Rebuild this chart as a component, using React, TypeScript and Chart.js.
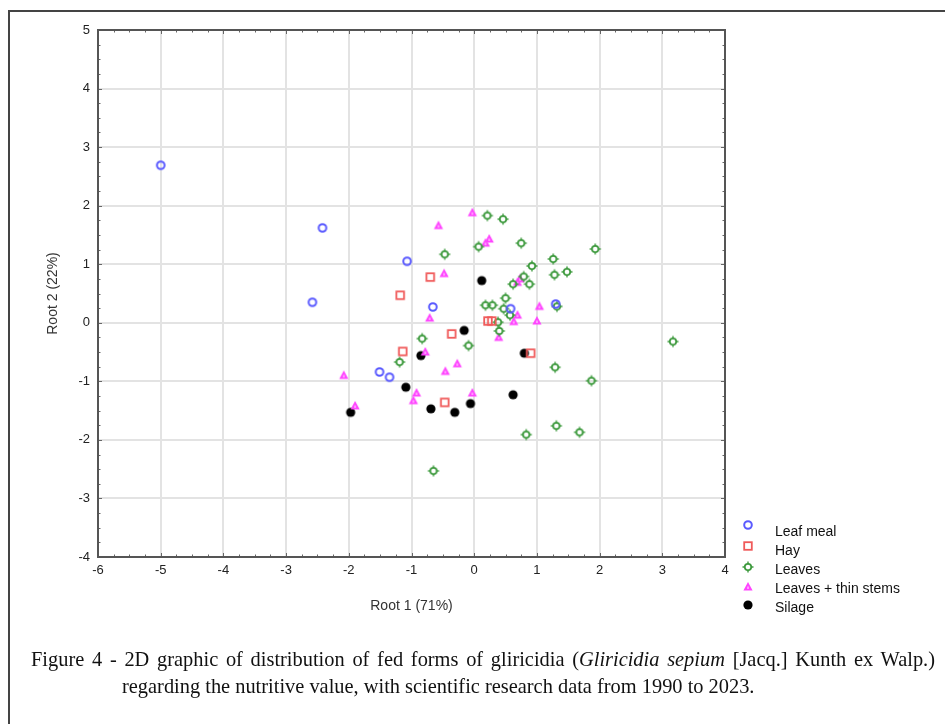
import React, { useEffect, useRef } from "react";
import { Chart, registerables } from "chart.js";

Chart.register(...registerables);

const seriesNames = ["Leaf meal", "Hay", "Leaves", "Leaves + thin stems", "Silage"];

const leafMeal = [
  { x: -5.0, y: 2.69 }, { x: -2.42, y: 1.62 }, { x: -2.58, y: 0.35 }, { x: -1.07, y: 1.05 },
  { x: -0.66, y: 0.27 }, { x: 0.58, y: 0.24 }, { x: 1.3, y: 0.32 }, { x: -1.51, y: -0.84 },
  { x: -1.35, y: -0.93 },
];

const hay = [
  { x: -0.7, y: 0.78 }, { x: -1.18, y: 0.47 }, { x: 0.22, y: 0.03 }, { x: 0.28, y: 0.03 },
  { x: -0.36, y: -0.19 }, { x: -1.14, y: -0.49 }, { x: 0.9, y: -0.52 }, { x: -0.47, y: -1.36 },
];

const leaves = [
  { x: 0.21, y: 1.83 }, { x: 0.46, y: 1.77 }, { x: 0.07, y: 1.3 }, { x: 0.75, y: 1.36 },
  { x: -0.47, y: 1.17 }, { x: 0.18, y: 0.3 }, { x: 0.29, y: 0.3 }, { x: 0.5, y: 0.42 },
  { x: 0.47, y: 0.24 }, { x: 0.38, y: 0.01 }, { x: 0.4, y: -0.14 }, { x: -0.83, y: -0.27 },
  { x: -0.09, y: -0.39 }, { x: -1.19, y: -0.67 }, { x: 0.83, y: -1.91 }, { x: 1.93, y: 1.26 },
  { x: 1.26, y: 1.09 }, { x: 0.92, y: 0.97 }, { x: 1.28, y: 0.82 }, { x: 1.48, y: 0.87 },
  { x: 0.79, y: 0.79 }, { x: 0.62, y: 0.66 }, { x: 0.88, y: 0.66 }, { x: 0.57, y: 0.13 },
  { x: 1.32, y: 0.28 }, { x: 3.17, y: -0.32 }, { x: 1.29, y: -0.76 }, { x: 1.87, y: -0.99 },
  { x: 1.31, y: -1.76 }, { x: 1.68, y: -1.87 }, { x: -0.65, y: -2.53 },
];

const leavesThinStems = [
  { x: -0.03, y: 1.88 }, { x: -0.57, y: 1.66 }, { x: 0.24, y: 1.43 }, { x: 0.18, y: 1.36 },
  { x: -0.48, y: 0.84 }, { x: -0.71, y: 0.08 }, { x: 0.39, y: -0.25 }, { x: -0.78, y: -0.5 },
  { x: -0.27, y: -0.7 }, { x: -0.46, y: -0.83 }, { x: -2.08, y: -0.9 }, { x: -0.92, y: -1.2 },
  { x: -0.97, y: -1.33 }, { x: -0.03, y: -1.2 }, { x: -1.9, y: -1.42 }, { x: 0.73, y: 0.75 },
  { x: 0.69, y: 0.69 }, { x: 0.69, y: 0.13 }, { x: 0.63, y: 0.02 }, { x: 1.04, y: 0.28 },
  { x: 1.0, y: 0.03 },
];

const silage = [
  { x: 0.12, y: 0.72 }, { x: -0.16, y: -0.13 }, { x: -0.85, y: -0.56 }, { x: -1.09, y: -1.1 },
  { x: 0.62, y: -1.23 }, { x: -0.06, y: -1.38 }, { x: -0.69, y: -1.47 }, { x: -0.31, y: -1.53 },
  { x: -1.97, y: -1.53 }, { x: 0.8, y: -0.52 },
];

const xTicks = [-6, -5, -4, -3, -2, -1, 0, 1, 2, 3, 4];
const yTicks = [-4, -3, -2, -1, 0, 1, 2, 3, 4, 5];

const captionLine1Start = "Figure 4 - 2D graphic of distribution of fed forms of gliricidia (";
const captionItalic = "Gliricidia sepium";
const captionLine1End = " [Jacq.] Kunth ex Walp.)";
const captionLine2 = "regarding the nutritive value, with scientific research data from 1990 to 2023.";

function makeMarker(kind: string): HTMLCanvasElement {
  const c = document.createElement("canvas");
  c.width = 14;
  c.height = 14;
  const g = c.getContext("2d")!;
  g.translate(7, 7);
  if (kind === "leafMeal") {
    g.strokeStyle = "#5a5aff";
    g.lineWidth = 2;
    g.beginPath();
    g.arc(0, 0, 3.8, 0, Math.PI * 2);
    g.stroke();
  } else if (kind === "hay") {
    g.strokeStyle = "#f05a5a";
    g.lineWidth = 1.8;
    g.strokeRect(-3.8, -3.8, 7.6, 7.6);
  } else if (kind === "leaves") {
    g.strokeStyle = "#3e9a3e";
    g.lineWidth = 1.8;
    g.beginPath();
    g.arc(0, 0, 3.2, 0, Math.PI * 2);
    g.stroke();
    g.lineWidth = 1.4;
    g.beginPath();
    g.moveTo(0, -5.5); g.lineTo(0, -3);
    g.moveTo(0, 5.5); g.lineTo(0, 3);
    g.moveTo(-5.5, 0); g.lineTo(-3, 0);
    g.moveTo(5.5, 0); g.lineTo(3, 0);
    g.stroke();
  } else if (kind === "thin") {
    g.fillStyle = "#ff44ff";
    g.beginPath();
    g.moveTo(0, -5);
    g.lineTo(4.6, 3.6);
    g.lineTo(-4.6, 3.6);
    g.closePath();
    g.fill();
    g.fillStyle = "#ffb0ff";
    g.fillRect(-0.8, -0.5, 1.6, 2.5);
  } else {
    g.fillStyle = "#000";
    g.beginPath();
    g.arc(0, 0, 4.6, 0, Math.PI * 2);
    g.fill();
  }
  return c;
}

export default function App() {
  const ref = useRef<HTMLCanvasElement | null>(null);

  useEffect(() => {
    if (!ref.current) return;
    const markers = [
      makeMarker("leafMeal"),
      makeMarker("hay"),
      makeMarker("leaves"),
      makeMarker("thin"),
      makeMarker("silage"),
    ];
    const dataSets = [leafMeal, hay, leaves, leavesThinStems, silage];

    const frameAndLegend = {
      id: "frameAndLegend",
      afterDatasetsDraw(chart: any) {
        const ctx = chart.ctx;
        const { left, right, top, bottom } = chart.chartArea;
        const xs = chart.scales.x;
        const ys = chart.scales.y;
        ctx.save();
        ctx.strokeStyle = "#666";
        ctx.lineWidth = 1;
        ctx.beginPath();
        for (let v = -6; v <= 4.001; v += 0.25) {
          const px = Math.round(xs.getPixelForValue(v)) + 0.5;
          const len = Math.abs(v - Math.round(v)) < 1e-6 ? 4 : 2.5;
          ctx.moveTo(px, bottom); ctx.lineTo(px, bottom - len);
          ctx.moveTo(px, top); ctx.lineTo(px, top + len);
        }
        for (let v = -4; v <= 5.001; v += 0.25) {
          const py = Math.round(ys.getPixelForValue(v)) + 0.5;
          const len = Math.abs(v - Math.round(v)) < 1e-6 ? 4 : 2.5;
          ctx.moveTo(left, py); ctx.lineTo(left + len, py);
          ctx.moveTo(right, py); ctx.lineTo(right - len, py);
        }
        ctx.stroke();
        ctx.strokeStyle = "#555";
        ctx.lineWidth = 2;
        ctx.strokeRect(left, top, right - left, bottom - top);
        const markerY = [525, 546, 567, 587, 605];
        const textY = [532, 551, 570, 589, 608];
        ctx.font = "14px 'Liberation Sans', Arial, sans-serif";
        ctx.fillStyle = "#111";
        ctx.textBaseline = "middle";
        ctx.textAlign = "left";
        for (let i = 0; i < seriesNames.length; i++) {
          ctx.drawImage(markers[i], 748 - 7, markerY[i] - 7);
          ctx.fillText(seriesNames[i], 775, textY[i]);
        }
        ctx.restore();
      },
    };

    const chart = new Chart(ref.current, {
      type: "scatter",
      data: {
        datasets: dataSets.map((d, i) => ({
          label: seriesNames[i],
          data: d,
          pointStyle: markers[i] as any,
          pointRadius: 5,
          pointHoverRadius: 5,
        })),
      },
      options: {
        animation: false,
        responsive: false,
        events: [],
        layout: { padding: { left: 38, top: 30, right: 220, bottom: 107 } },
        plugins: { legend: { display: false }, tooltip: { enabled: false } },
        scales: {
          x: {
            type: "linear",
            min: -6,
            max: 4,
            afterBuildTicks: (s: any) => { s.ticks = xTicks.map((v) => ({ value: v })); },
            afterFit: (s: any) => { s.height = 60; },
            ticks: {
              color: "#222",
              font: { family: "'Liberation Sans', Arial, sans-serif", size: 13 },
              padding: 6,
            },
            grid: { color: "#e3e3e3", lineWidth: 2, drawTicks: false },
            border: { display: false },
            title: {
              display: true,
              text: "Root 1 (71%)",
              color: "#333",
              font: { family: "'Liberation Sans', Arial, sans-serif", size: 14 },
              padding: { top: 0, bottom: 2 },
            },
          },
          y: {
            type: "linear",
            min: -4,
            max: 5,
            afterBuildTicks: (s: any) => { s.ticks = yTicks.map((v) => ({ value: v })); },
            afterFit: (s: any) => { s.width = 60; },
            ticks: {
              color: "#222",
              font: { family: "'Liberation Sans', Arial, sans-serif", size: 13 },
              padding: 8,
            },
            grid: { color: "#e3e3e3", lineWidth: 2, drawTicks: false },
            border: { display: false },
            title: {
              display: true,
              text: "Root 2 (22%)",
              color: "#333",
              font: { family: "'Liberation Sans', Arial, sans-serif", size: 14 },
              padding: { top: 7, bottom: 0 },
            },
          },
        },
      },
      plugins: [frameAndLegend],
    });
    return () => chart.destroy();
  }, []);

  return (
    <div style={{ position: "absolute", left: 0, top: 0, width: 945, height: 724, background: "#fff", overflow: "hidden" }}>
      <canvas ref={ref} width={945} height={724} style={{ position: "absolute", left: 0, top: 0 }} />
      <div style={{ position: "absolute", left: 8, top: 10, width: 945, height: 724, borderTop: "2px solid #444", borderLeft: "2px solid #444" }} />
      <div
        style={{
          position: "absolute",
          left: 31,
          top: 646,
          width: 904,
          fontFamily: "'Liberation Serif', 'Times New Roman', serif",
          fontSize: 20.4,
          lineHeight: "27px",
          color: "#111",
        }}
      >
        <div style={{ textAlign: "justify", textAlignLast: "justify" }}>
          {captionLine1Start}
          <i>{captionItalic}</i>
          {captionLine1End}
        </div>
        <div style={{ paddingLeft: 91, whiteSpace: "nowrap" }}>{captionLine2}</div>
      </div>
    </div>
  );
}
